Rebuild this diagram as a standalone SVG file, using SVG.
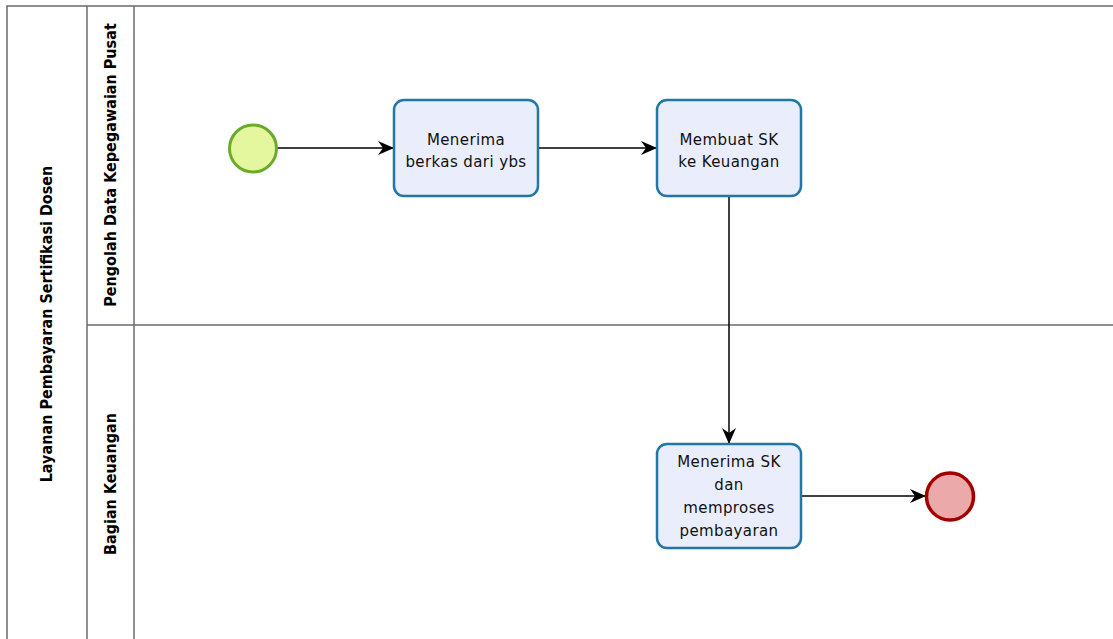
<svg xmlns="http://www.w3.org/2000/svg" width="1113" height="639" viewBox="0 0 1113 639">
<style>
.lane{fill:none;stroke:#6b6b6b;stroke-width:1.5}
.plabel{font-family:"DejaVu Sans Condensed","DejaVu Sans",sans-serif;font-stretch:condensed;font-weight:bold;font-size:16px;fill:#000;text-anchor:middle}
.task{fill:#eaedfb;stroke:#1f78a5;stroke-width:2.5}
.tt{font-family:"DejaVu Sans",sans-serif;font-size:15px;letter-spacing:0.4px;fill:#111;text-anchor:middle}
.edge{fill:none;stroke:#000;stroke-width:1.5;marker-end:url(#arr)}
</style>
<defs>
<marker id="arr" viewBox="0 0 16 14" refX="15" refY="7" markerWidth="16" markerHeight="14" markerUnits="userSpaceOnUse" orient="auto">
<path d="M0,0 L16,7 L0,14 L5,7 Z" fill="#000"/>
</marker>
</defs>
<rect width="1113" height="639" fill="#fff"/>
<g id="pool">
<path class="lane" d="M7,645 V6 H1120"/>
<path class="lane" d="M87,6 V645"/>
<path class="lane" d="M134,6 V645"/>
<path class="lane" d="M87,325 H1120"/>
<text class="plabel" transform="translate(52,324) rotate(-90)">Layanan Pembayaran Sertifikasi Dosen</text>
</g>
<g id="lane1">
<text class="plabel" transform="translate(116,165) rotate(-90)">Pengolah Data Kepegawaian Pusat</text>
</g>
<g id="lane2">
<text class="plabel" transform="translate(116,484) rotate(-90)">Bagian Keuangan</text>
</g>
<g id="connectors">
<path class="edge" d="M277,148 H393"/>
<path class="edge" d="M538,148 H656"/>
<path class="edge" d="M729,197 V443"/>
<path class="edge" d="M801,496 H925"/>
</g>
<g id="start">
<circle cx="253" cy="148.5" r="23.5" fill="#e5f79e" stroke="#6aaa2c" stroke-width="3"/>
</g>
<g id="task1">
<rect class="task" x="394" y="100" width="144" height="96" rx="10"/>
<text class="tt" x="466" y="145">Menerima</text>
<text class="tt" x="466" y="167">berkas dari ybs</text>
</g>
<g id="task2">
<rect class="task" x="657" y="100" width="144" height="96" rx="10"/>
<text class="tt" x="729" y="145">Membuat SK</text>
<text class="tt" x="729" y="167">ke Keuangan</text>
</g>
<g id="task3">
<rect class="task" x="657" y="444" width="144" height="104" rx="10"/>
<text class="tt" x="729" y="467">Menerima SK</text>
<text class="tt" x="729" y="490">dan</text>
<text class="tt" x="729" y="513">memproses</text>
<text class="tt" x="729" y="536">pembayaran</text>
</g>
<g id="end">
<circle cx="950" cy="496.5" r="23.5" fill="#eba9a9" stroke="#a00000" stroke-width="3.5"/>
</g>
</svg>
